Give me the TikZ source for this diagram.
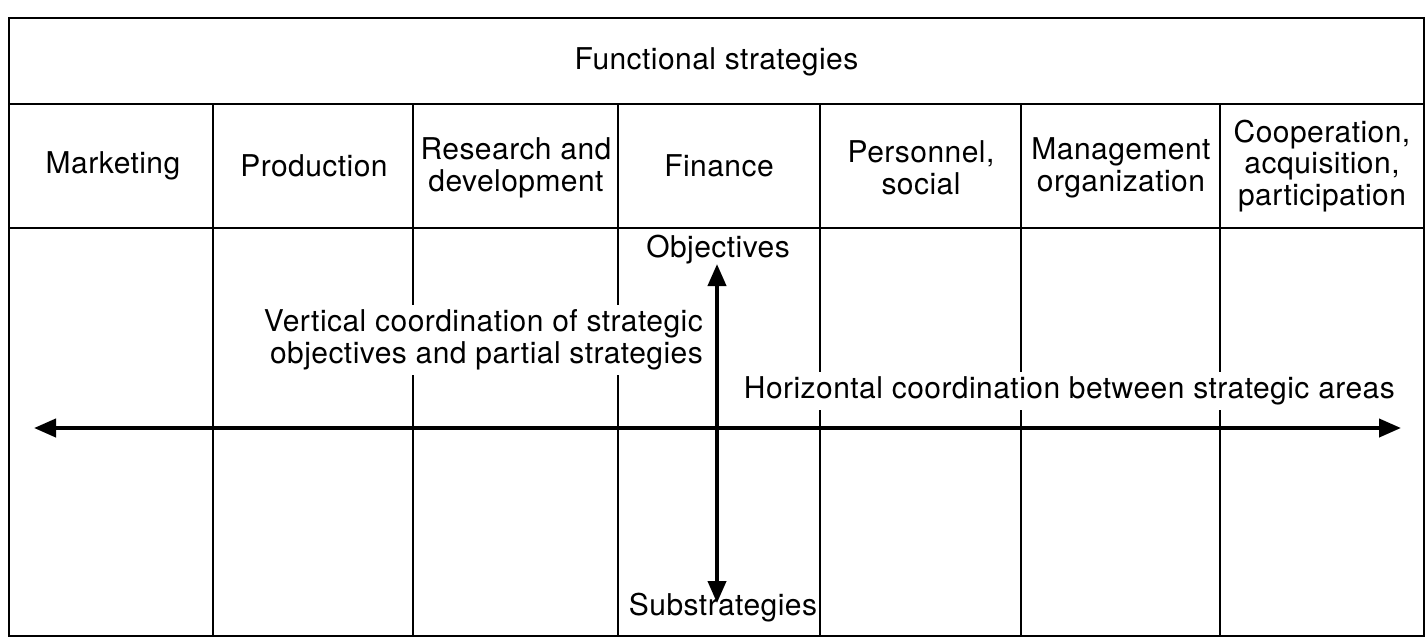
\documentclass[tikz,border=0pt]{standalone}
\usepackage{fontspec}
\setmainfont[LetterSpace=1.5]{TeX Gyre Heros}
\usetikzlibrary{arrows.meta}
\begin{document}
\begin{tikzpicture}[x=1pt,y=-1pt,
  gridline/.style={line width=2.6pt},
  lab/.style={font=\fontsize{30}{31.5}\selectfont, align=center, inner sep=0pt},
  masked/.style={fill=white, inner sep=5pt},
  biarrow/.style={line width=4pt, {Triangle[length=22pt,width=18pt]}-{Triangle[length=22pt,width=18pt]}}]
\useasboundingbox (0,0) rectangle (1427,641);
% frame and grid
\draw[gridline] (9,18) rectangle (1424,636);
\draw[gridline] (9,104) -- (1424,104);
\draw[gridline] (9,228) -- (1424,228);
\foreach \xx in {213,413,618,820,1021,1220}
  \draw[gridline] (\xx,104) -- (\xx,636);
% headers
\node[lab] (title) at (716.5,62) {Functional strategies};
\node[lab] (c1) at (113,166) {Marketing};
\node[lab] (c2) at (314,166) {Production};
\node[lab] (c3) at (516,168) {Research and\\development};
\node[lab] (c4) at (719,166) {Finance};
\node[lab] (c5) at (921,168) {Personnel,\\social};
\node[lab] (c6) at (1121,168) {Management\\organization};
\node[lab] (c7) at (1322,166) {Cooperation,\\acquisition,\\participation};
% body labels
\node[lab, masked, align=right, anchor=east] (vtext) at (708,340)
  {Vertical coordination of strategic\\objectives and partial strategies};
\node[lab, masked, anchor=east] (htext) at (1400,391)
  {Horizontal coordination between strategic areas};
\node[lab] (obj) at (718,250) {Objectives};
\node[lab] (subs) at (723,608) {Substrategies};
% arrows
\coordinate (vtop) at (717,264);
\coordinate (vbot) at (717,603);
\coordinate (hleft) at (34,428);
\coordinate (hright) at (1401,428);
\draw[biarrow] (hleft) -- (hright);
\draw[biarrow] (vbot) -- (vtop);
\end{tikzpicture}
\end{document}
